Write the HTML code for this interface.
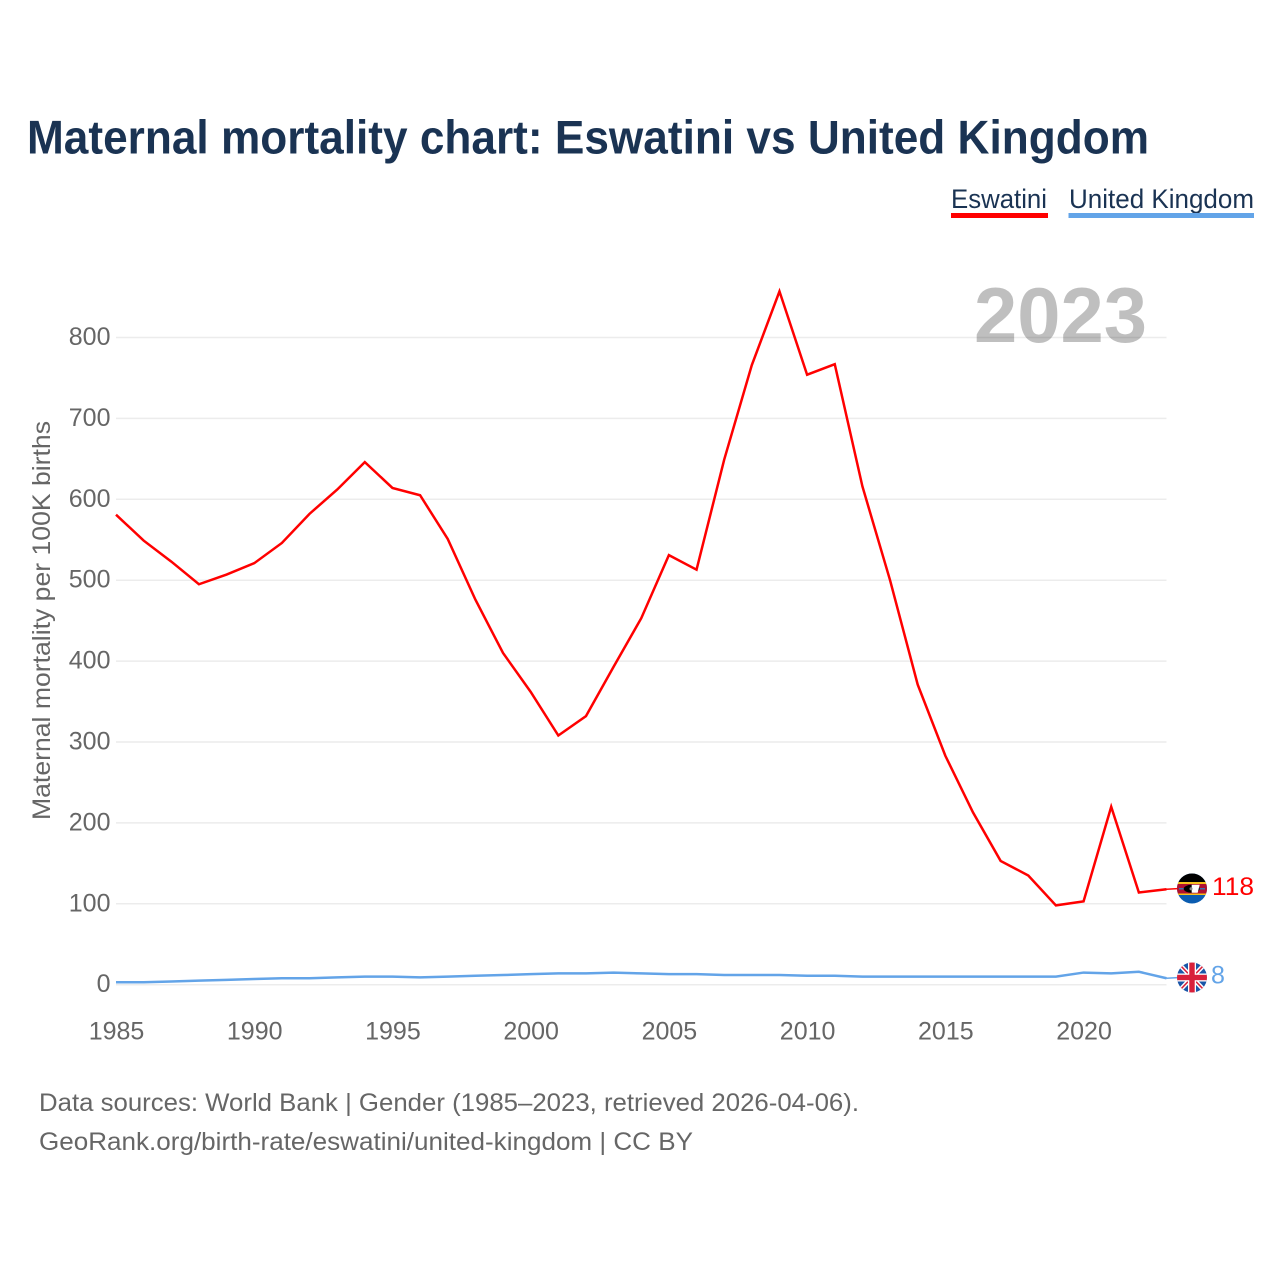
<!DOCTYPE html>
<html lang="en">
<head>
<meta charset="utf-8">
<title>Maternal mortality chart: Eswatini vs United Kingdom</title>
<style>
html,body{margin:0;padding:0;background:#fff;}
svg{display:block;}
text{font-family:"Liberation Sans",sans-serif;}
</style>
</head>
<body>
<svg id="chart" width="1280" height="1280" viewBox="0 0 1280 1280" xmlns="http://www.w3.org/2000/svg">
  <defs>
    <clipPath id="flag-clip-sz"><circle cx="1192" cy="888.5" r="15"/></clipPath>
    <clipPath id="flag-clip-uk"><circle cx="1192" cy="977.5" r="15"/></clipPath>
  </defs>
  <rect width="1280" height="1280" fill="#fff"/>
  <text x="27" y="153.500" font-size="47" font-weight="700" fill="#1a3353" textLength="1122" lengthAdjust="spacingAndGlyphs">Maternal mortality chart: Eswatini vs United Kingdom</text>

  <text x="951" y="208" font-size="27" fill="#1a3353" textLength="96" lengthAdjust="spacingAndGlyphs">Eswatini</text>
  <rect x="951" y="213" width="97" height="5" fill="#ff0000"/>
  <text x="1069" y="208" font-size="27" fill="#1a3353" textLength="185" lengthAdjust="spacingAndGlyphs">United Kingdom</text>
  <rect x="1068.500" y="213" width="185.500" height="5" fill="#63a4e8"/>

  <g id="grid"></g>
  <text x="974" y="342" font-size="78" font-weight="700" fill="#000" fill-opacity="0.25" textLength="173" lengthAdjust="spacingAndGlyphs">2023</text>
  <g id="y-ticks"></g>
  <g id="x-ticks"></g>

  <text transform="translate(50,820) rotate(-90)" x="0" y="0" font-size="25" fill="#666" textLength="399" lengthAdjust="spacingAndGlyphs">Maternal mortality per 100K births</text>

  <path id="line-eswatini" fill="none" stroke="#ff0000" stroke-width="2.500" stroke-linejoin="miter"/>
  <path id="line-uk" fill="none" stroke="#63a4e8" stroke-width="2.500"/>
  <path id="connector-eswatini" fill="none" stroke="#ff0000" stroke-width="1.500"/>
  <path id="connector-uk" fill="none" stroke="#63a4e8" stroke-width="1.500"/>

  <g clip-path="url(#flag-clip-sz)">
    <rect x="1177" y="873" width="30" height="31" fill="#0a5cb0"/>
    <rect x="1177" y="873" width="30" height="9" fill="#000"/>
    <rect x="1177" y="882" width="30" height="2" fill="#f6c21c"/>
    <rect x="1177" y="884" width="30" height="9.500" fill="#b01030"/>
    <rect x="1177" y="893.500" width="30" height="1.500" fill="#f6c21c"/>
    <rect x="1179" y="888" width="26" height="1.500" fill="#3a6fb0"/>
    <ellipse cx="1191.700" cy="888.800" rx="8" ry="4" fill="#000"/>
    <path d="M1191.700 884.800h8l-1 4-1 4h-6z" fill="#fff"/>
    <circle cx="1191" cy="888.800" r="1.500" fill="#888"/>
  </g>
  <g clip-path="url(#flag-clip-uk)">
    <rect x="1177" y="962" width="30" height="31" fill="#1a56a8"/>
    <path d="M1179 964L1205 991M1205 964L1179 991" stroke="#fff" stroke-width="4.500"/>
    <path d="M1179 964L1205 991M1205 964L1179 991" stroke="#d8203a" stroke-width="1.600"/>
    <rect x="1188" y="962" width="8" height="31" fill="#fff"/>
    <rect x="1177" y="973.500" width="30" height="8" fill="#fff"/>
    <rect x="1189.300" y="962" width="5.400" height="31" fill="#d8203a"/>
    <rect x="1177" y="974.800" width="30" height="5.400" fill="#d8203a"/>
  </g>

  <text id="end-label-eswatini" x="1212" y="895" font-size="25" fill="#ff0000" textLength="42" lengthAdjust="spacingAndGlyphs"></text>
  <text id="end-label-uk" x="1211" y="983.500" font-size="25" fill="#63a4e8"></text>

  <text x="39" y="1111" font-size="25" fill="#666" textLength="820" lengthAdjust="spacingAndGlyphs">Data sources: World Bank | Gender (1985–2023, retrieved 2026-04-06).</text>
  <text x="39" y="1150" font-size="25" fill="#666" textLength="654" lengthAdjust="spacingAndGlyphs">GeoRank.org/birth-rate/eswatini/united-kingdom | CC BY</text>
</svg>
<script>
const startYear = 1985;
const endYear = 2023;
const eswatiniValues = [581,549,523,495,507,521,546,582,612,646,614,605,551,476,410,362,308,332,393,453,531,513,649,766,857,754,767,616,500,371,283,213,153,135,98,103,220,114,118];
const ukValues = [3,3,4,5,6,7,8,8,9,10,10,9,10,11,12,13,14,14,15,14,13,13,12,12,12,11,11,10,10,10,10,10,10,10,10,15,14,16,8];
const yTicks = [0,100,200,300,400,500,600,700,800];
const xTicks = [1985,1990,1995,2000,2005,2010,2015,2020];

const SVG_NS = 'http://www.w3.org/2000/svg';
const plotLeft = 116, plotRight = 1166.5;
const zeroPixel = 984.7, pixelsPerUnit = 0.809;
function xScale(year) {
  return plotLeft + (year - startYear) * (plotRight - plotLeft) / (endYear - startYear);
}
function yScale(value) {
  return zeroPixel - value * pixelsPerUnit;
}
function linePath(values) {
  return values.map(function (v, i) {
    return (i ? 'L' : 'M') + xScale(startYear + i).toFixed(2) + ' ' + yScale(v).toFixed(2);
  }).join('');
}
function makeSvg(tag, attrs) {
  const el = document.createElementNS(SVG_NS, tag);
  Object.keys(attrs).forEach(function (k) { el.setAttribute(k, attrs[k]); });
  return el;
}

const gridGroup = document.getElementById('grid');
const yGroup = document.getElementById('y-ticks');
yTicks.forEach(function (t) {
  const gl = makeSvg('line', {x1: plotLeft, x2: plotRight, y1: yScale(t), y2: yScale(t), stroke: '#ececec', 'stroke-width': 1.5});
  
  
  gridGroup.appendChild(gl);
  const lab = makeSvg('text', {x: 110.5, y: yScale(t) + 7.5, 'text-anchor': 'end', 'font-size': 25, fill: '#666'});
  
  
  lab.textContent = t;
  yGroup.appendChild(lab);
});

const xGroup = document.getElementById('x-ticks');
xTicks.forEach(function (t) {
  const lab = makeSvg('text', {x: xScale(t) + 0.5, y: 1039.5, 'text-anchor': 'middle', 'font-size': 25, fill: '#666'});
  
  
  lab.textContent = t;
  xGroup.appendChild(lab);
});

document.getElementById('line-eswatini').setAttribute('d', linePath(eswatiniValues));
document.getElementById('line-uk').setAttribute('d', linePath(ukValues));

const lastEswatini = eswatiniValues[eswatiniValues.length - 1];
const lastUk = ukValues[ukValues.length - 1];
document.getElementById('connector-eswatini').setAttribute('d', 'M' + plotRight + ' ' + yScale(lastEswatini) + 'L1180 888.5');
document.getElementById('connector-uk').setAttribute('d', 'M' + plotRight + ' ' + yScale(lastUk) + 'L1180 977.5');
document.getElementById('end-label-eswatini').textContent = lastEswatini;
document.getElementById('end-label-uk').textContent = lastUk;
</script>
</body>
</html>
